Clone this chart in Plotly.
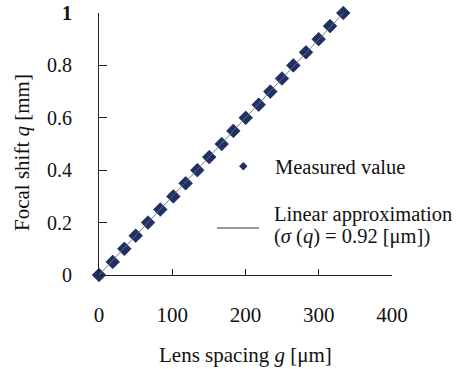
import plotly.graph_objects as go

# Data
lens_spacing_um = [0, 18.7, 34.6, 50.1, 66.9, 83.7, 101.5, 118.3, 134.2, 150.5, 167.5,
                   183.4, 200.3, 218.0, 233.9, 249.8, 265.3, 282.6, 299.9, 315.4, 333.5]
focal_shift_mm = [0.00, 0.05, 0.10, 0.15, 0.20, 0.25, 0.30, 0.35, 0.40, 0.45, 0.50,
                  0.55, 0.60, 0.65, 0.70, 0.75, 0.80, 0.85, 0.90, 0.95, 1.00]
fit_g = [0, 333.5]
fit_q = [0.0, 1.0]

x_ticks = [0, 100, 200, 300, 400]
x_ticktext = ["0", "100", "200", "300", "400"]
y_ticks = [0, 0.2, 0.4, 0.6, 0.8, 1.0]
y_ticktext = ["0", "0.2", "0.4", "0.6", "0.8", "<b>1</b>"]

W, H = 459, 369
PL, PT, PR, PB = 99, 13, 392, 275  # plot area in page pixels
L, T, R, B = PL, PT, W - PR, H - PB
PW, PH = PR - PL, PB - PT

def px(x):
    return (x - PL) / PW

def py(y):
    return (PB - y) / PH

FONT = "Liberation Serif"
NAVY = "#1f3066"
TXT = "#111111"

fig = go.Figure()
fig.add_trace(go.Scatter(
    x=lens_spacing_um, y=focal_shift_mm, mode="markers",
    marker=dict(symbol="diamond", size=10.5, color=NAVY, line=dict(color="#0c173a", width=0.6)),
    cliponaxis=False, showlegend=False))
fig.add_trace(go.Scatter(
    x=fit_g, y=fit_q, mode="lines",
    line=dict(color="rgba(110,110,110,0.9)", width=1),
    cliponaxis=False, showlegend=False))

axis_common = dict(showgrid=False, zeroline=False, showline=True, linecolor="#222222",
                   linewidth=1, ticks="inside", tickcolor="#222222", tickwidth=1,
                   automargin=False, ticklabeloverflow="allow")
fig.update_xaxes(range=[0, 400], tickvals=x_ticks, ticktext=x_ticktext, ticklen=6,
                 ticklabelstandoff=21, tickfont=dict(family=FONT, size=21, color=TXT),
                 **axis_common)
fig.update_yaxes(range=[0, 1], tickvals=y_ticks, ticktext=y_ticktext, ticklen=8,
                 ticklabelstandoff=22, tickfont=dict(family=FONT, size=20, color=TXT),
                 **axis_common)

def label(text, x, y, xanchor="left", size=20.5, angle=0, family=FONT, color=TXT):
    return dict(text=text, x=px(x), y=py(y), xref="paper", yref="paper",
                showarrow=False, xanchor=xanchor, yanchor="middle", textangle=angle,
                font=dict(family=family, size=size, color=color))

ann = [
    label("Lens spacing <i>g</i> [μm]", 245, 355, xanchor="center", size=21),
    label("Focal shift <i>q</i> [mm]", 22, 153, xanchor="center", angle=-90, size=21),
    label("Measured value", 273, 167),
    label("Linear approximation", 272, 214),
    label("(<i>σ</i> (<i>q</i>) = 0.92 [μm])", 272, 236),
    label("◆", 243, 165, xanchor="center", size=11, family="DejaVu Sans", color=NAVY),
]
fig.update_layout(annotations=ann)
fig.add_shape(type="line", xref="paper", yref="paper", x0=px(217), x1=px(259), y0=py(228), y1=py(228),
              line=dict(color="#333333", width=1))

fig.update_layout(width=W, height=H, margin=dict(l=L, r=R, t=T, b=B, autoexpand=False),
                  paper_bgcolor="white", plot_bgcolor="white")
fig.write_html("out.html", config={"displayModeBar": False},
               post_script="document.body.style.margin='0px';")
